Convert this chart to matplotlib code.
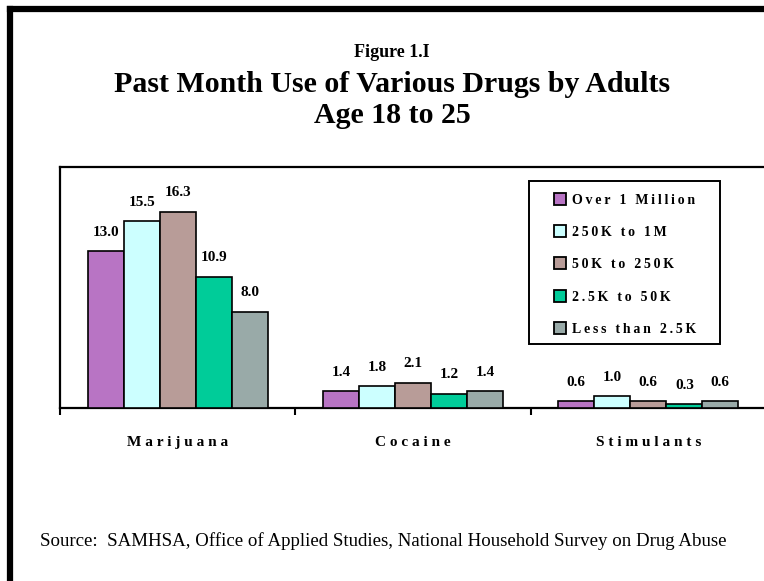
import matplotlib
matplotlib.use('Agg')
import matplotlib.pyplot as plt
import numpy as np
from matplotlib.lines import Line2D
from matplotlib.patches import Rectangle

plt.rcParams['font.family'] = ['Liberation Serif', 'DejaVu Serif']

categories = ['Marijuana', 'Cocaine', 'Stimulants']
series = ['Over 1 Million', '250K to 1M', '50K to 250K', '2.5K to 50K', 'Less than 2.5K']
values = [
    [13.0, 1.4, 0.6],   # Over 1 Million
    [15.5, 1.8, 1.0],   # 250K to 1M
    [16.3, 2.1, 0.6],   # 50K to 250K
    [10.9, 1.2, 0.3],   # 2.5K to 50K
    [8.0, 1.4, 0.6],    # Less than 2.5K
]
colors = ['#B874C4', '#CCFFFF', '#B89C98', '#00CC99', '#99AAA8']


def spaced(s, sep=' '):
    return sep.join(s)


W, H = 764, 581
fig = plt.figure(figsize=(W / 100, H / 100), dpi=100)


def fx(px):
    return px / W


def fy(py):
    return 1 - py / H


# thick frame on left and top (rest is cropped off)
fig.add_artist(Line2D([fx(10), fx(10)], [0, fy(9)], color='black', lw=4.5,
                      solid_capstyle='projecting', transform=fig.transFigure))
fig.add_artist(Line2D([fx(10), 1.0], [fy(9), fy(9)], color='black', lw=4.5,
                      solid_capstyle='projecting', transform=fig.transFigure))

# titles
cx = fx(392)
fig.text(cx, fy(57), 'Figure 1.I', ha='center', va='baseline',
         fontsize=13, fontweight='bold')
fig.text(cx, fy(92), 'Past Month Use of Various Drugs by Adults', ha='center',
         va='baseline', fontsize=21.5, fontweight='bold')
fig.text(cx, fy(123), 'Age 18 to 25', ha='center', va='baseline',
         fontsize=21.5, fontweight='bold')

# axes (extends past the right edge)
ax = fig.add_axes([fx(60), fy(408), 706 / W, 241 / H])
width = 0.153
x = np.arange(len(categories)) + 0.5
for i, (name, vals) in enumerate(zip(series, values)):
    pos = x + (i - 2) * width
    bars = ax.bar(pos, vals, width, color=colors[i], edgecolor='black',
                  linewidth=1.2, zorder=3)
    for b, v in zip(bars, vals):
        ax.annotate(f'{v:.1f}', (b.get_x() + b.get_width() / 2, v),
                    xytext=(0, 13.5), textcoords='offset points',
                    ha='center', va='center', fontsize=11, fontweight='bold')

ax.set_xlim(0, 3)
ax.set_ylim(0, 20)
ax.set_yticks([])
ax.set_xticks([0, 1, 2, 3])
ax.set_xticklabels([])
ax.set_xticks(x, minor=True)
ax.set_xticklabels([spaced(c) for c in categories], minor=True,
                   fontsize=11, fontweight='bold')
ax.tick_params(axis='x', which='major', direction='out', length=5, width=1.5)
ax.tick_params(axis='x', which='minor', length=0, pad=20)
for s in ['top', 'left', 'bottom']:
    ax.spines[s].set_linewidth(1.6)
ax.spines['right'].set_visible(False)

# legend box drawn by hand
fig.add_artist(Rectangle((fx(529), fy(344)), (720 - 529) / W, (344 - 181) / H,
                         transform=fig.transFigure, facecolor='white',
                         edgecolor='black', lw=1.4, zorder=5))
for i, name in enumerate(series):
    yc = 198.5 + i * 32.4
    fig.add_artist(Rectangle((fx(554), fy(yc + 6)), 12 / W, 12 / H,
                             transform=fig.transFigure, facecolor=colors[i],
                             edgecolor='black', lw=1.3, zorder=6))
    fig.text(fx(572), fy(yc), spaced(name, '\u2009'), ha='left',
             va='center_baseline', fontsize=10, fontweight='bold', zorder=6)

fig.text(fx(40), fy(546),
         'Source:  SAMHSA, Office of Applied Studies, National Household Survey on Drug Abuse',
         ha='left', va='baseline', fontsize=13.6)

fig.savefig('out.png', dpi=100)
